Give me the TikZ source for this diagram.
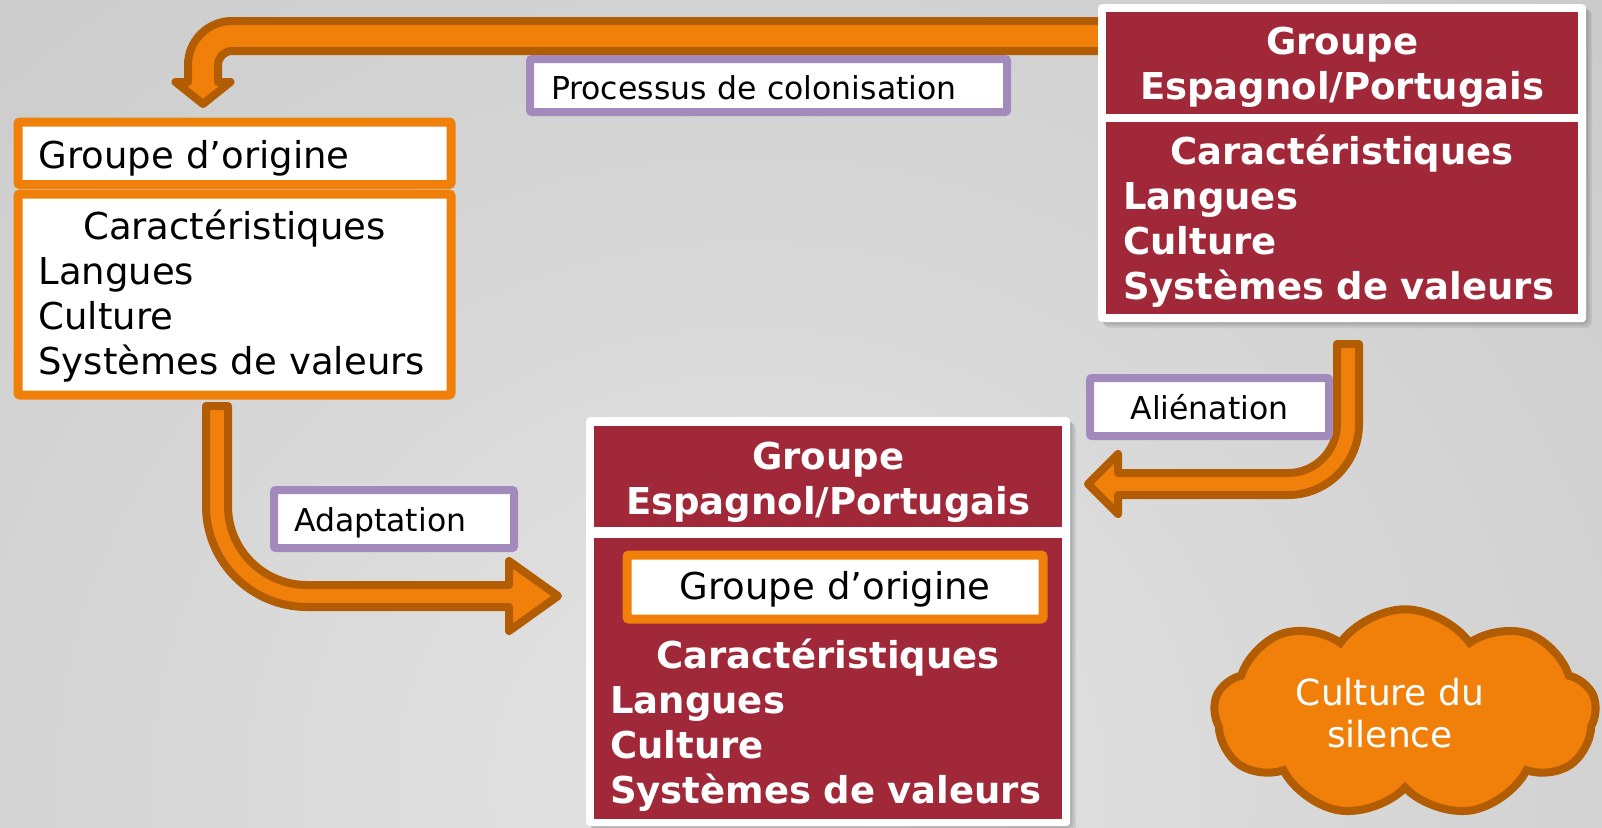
\documentclass[tikz,border=0pt]{standalone}
\usepackage{fontspec}
\setmainfont{DejaVu Sans}
\usetikzlibrary{shapes.symbols}
\definecolor{cred}{RGB}{160,40,56}
\definecolor{corange}{RGB}{240,128,10}
\definecolor{cbrown}{RGB}{178,92,4}
\definecolor{cpurple}{RGB}{162,138,188}
\definecolor{bgin}{RGB}{228,228,228}
\definecolor{bgout}{RGB}{186,186,186}
\pgfdeclareradialshading{bgshade}{\pgfpoint{0bp}{0bp}}{color(0bp)=(bgin); color(50bp)=(bgout); color(100bp)=(bgout)}
\newcommand\bigfnt{\fontsize{37}{45}\selectfont}
\newcommand\lblfnt{\fontsize{31.5}{38}\selectfont}
\tikzset{
  blockarrow/.style={fill=corange, draw=cbrown, line width=8pt, line join=round},
  obox/.style={draw=corange, line width=9pt, fill=white, rounded corners=2pt, inner ysep=0pt, align=left, anchor=north west, font=\bigfnt},
  rbox/.style={fill=cred, text=white, inner ysep=0pt, anchor=north west, font=\bigfnt\bfseries},
  wframe/.style={fill=white, rounded corners=4pt, inner sep=0pt, anchor=north west},
  lbl/.style={draw=cpurple, line width=8pt, fill=white, rounded corners=2pt, inner ysep=0pt, anchor=north west, align=left, font=\lblfnt},
  softshadow/.style={fill=black, opacity=0.07, rounded corners=6pt},
}
\begin{document}
\begin{tikzpicture}[x=1pt, y=-1pt]
\useasboundingbox (0,0) rectangle (1602,827);
% background
\begin{scope}
  \clip (0,0) rectangle (1602,827);
  \shade[shading=bgshade] (-250,-120) rectangle (1750,1680);
\end{scope}

% block arrows
\draw[blockarrow] (1110,21) -- (232,21) arc[start angle=270, end angle=180, radius=44]
  -- (188,82) -- (175.5,82) -- (203,104) -- (230.5,82) -- (218,82) -- (218,65)
  arc[start angle=180, end angle=270, radius=14] -- (1110,51) -- cycle;
\draw[blockarrow] (206,406) -- (206,506) arc[start angle=180, end angle=90, radius=101]
  -- (509,607) -- (509,631) -- (558,596) -- (509,561) -- (509,585) -- (307,585)
  arc[start angle=90, end angle=180, radius=79] -- (228,406) -- cycle;
\draw[blockarrow] (1337,344) -- (1359,344) -- (1359,424) arc[start angle=0, end angle=90, radius=71]
  -- (1118,495) -- (1118,514) -- (1088,484) -- (1118,454) -- (1118,473) -- (1288,473)
  arc[start angle=90, end angle=0, radius=49] -- cycle;

% left group
\node[obox, text width=392pt, inner xsep=20.5pt, text height=46.5pt, text depth=16pt] (origA) at (13.5,117.5) {Groupe d’origine};
\node[obox, text width=392pt, inner xsep=20.5pt, text height=45.5pt, text depth=155.5pt] (charA) at (13.5,189.5)
  {\makebox[\linewidth]{Caractéristiques}\\Langues\\Culture\\Systèmes de valeurs};

% top-right group
\foreach \d in {2,4,6} {\fill[softshadow] (1098+\d,4+\d) rectangle (1586+\d,322+\d);}
\node[wframe, minimum width=488pt, minimum height=318pt] (frameB) at (1098,4) {};
\node[rbox, text width=472pt, inner xsep=0pt, align=center, text height=42pt, text depth=60pt] (espB) at (1106,12)
  {Groupe\\Espagnol/Portugais};
\node[rbox, text width=438pt, inner xsep=17pt, align=left, text height=42pt, text depth=150pt] (charB) at (1106,122)
  {\makebox[\linewidth]{Caractéristiques}\\Langues\\Culture\\Systèmes de valeurs};

% middle group
\foreach \d in {2,4,6} {\fill[softshadow] (586+\d,417+\d) rectangle (1070+\d,826+\d);}
\node[wframe, minimum width=484pt, minimum height=409pt] (frameC) at (586,417) {};
\node[rbox, text width=468pt, inner xsep=0pt, align=center, text height=43pt, text depth=58pt] (espC) at (594,426)
  {Groupe\\Espagnol/Portugais};
\node[rbox, text width=436pt, inner xsep=16pt, align=left, text height=130pt, text depth=151pt] (charC) at (594,538)
  {\makebox[\linewidth]{Caractéristiques}\\Langues\\Culture\\Systèmes de valeurs};
\node[obox, text width=376pt, inner xsep=20pt, align=center, text height=44.5pt, text depth=19.5pt] (origC) at (622.5,550.5)
  {Groupe d’origine};

% labels
\node[lbl, text width=435pt, inner xsep=21pt, text height=40pt, text depth=13pt] (proc) at (526,55) {Processus de colonisation};
\node[lbl, align=center, text width=179pt, inner xsep=30pt, text height=41pt, text depth=17pt] (alien) at (1086,374) {Aliénation};
\node[lbl, text width=200pt, inner xsep=20pt, text height=41pt, text depth=17pt] (adapt) at (270,486) {Adaptation};

% cloud
\node[cloud, cloud puffs=9, cloud puff arc=110, aspect=1.9, draw=cbrown, fill=corange, line width=8pt,
  minimum width=382pt, minimum height=200pt, inner sep=0pt, text=white, align=center,
  font=\fontsize{36}{42}\selectfont] (silence) at (1405,713)
  {Culture du\hspace*{30pt}\\silence\hspace*{30pt}};
\end{tikzpicture}
\end{document}
